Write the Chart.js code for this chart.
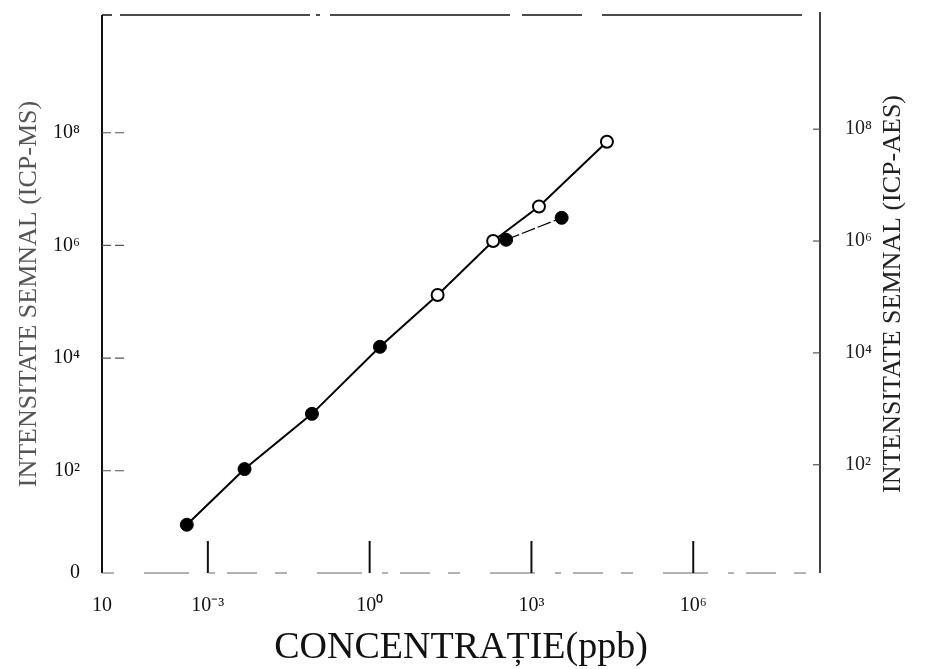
<!DOCTYPE html>
<html>
<head>
<meta charset="utf-8">
<script src="https://cdn.jsdelivr.net/npm/chart.js@4.4.1/dist/chart.umd.min.js"></script>
<style>
  html, body { margin: 0; padding: 0; background: #fff; }
  canvas { display: block; }
</style>
</head>
<body>
<canvas id="concChart" width="927" height="669"></canvas>
<script>
// ICP-MS points (filled): concentration in ppb vs signal
const msConc = [4.07e-4, 4.79e-3, 0.0851, 1.55, 339, 3630];
const msSignal = [11.0, 107, 1023, 15850, 1.26e6, 3.09e6];

// ICP-AES points (open)
const aesConc = [18.2, 195, 1380, 25100];
const aesSignal = [1.32e5, 1.20e6, 4.90e6, 6.92e7];

// how many ICP-MS points lie on the common straight line
const msOnLine = 4;

// axis ranges as printed (the scan is not perfectly regular)
const xRange = [1.09e-5, 2.24e8];
const yLeftRange = [1.53, 1.23e10];
const yRightRange = [1.16, 1.10e10];

const xTickValues = [xRange[0], 1e-3, 1, 1e3, 1e6];
const xTickLabels = ['10', '10⁻³', '10⁰', '10³', '10⁶'];
const yLeftTickValues = [yLeftRange[0], 1e2, 1e4, 1e6, 1e8];
const yLeftTickLabels = ['0', '10²', '10⁴', '10⁶', '10⁸'];
const yRightTickValues = [1e2, 1e4, 1e6, 1e8];
const yRightTickLabels = ['10²', '10⁴', '10⁶', '10⁸'];

const serif = '"Liberation Serif", "Times New Roman", serif';

const msPoints = msConc.map((x, i) => ({ x: x, y: msSignal[i] }));
const aesPoints = aesConc.map((x, i) => ({ x: x, y: aesSignal[i] }));
const linePoints = msPoints.slice(0, msOnLine).concat(aesPoints).sort((a, b) => a.x - b.x);

function line(ctx, x1, y1, x2, y2) {
    ctx.beginPath();
    ctx.moveTo(x1, y1);
    ctx.lineTo(x2, y2);
    ctx.stroke();
}

// keep the plot box exactly where the printed one is
function noPadding(s) {
    s.paddingTop = 0;
    s.paddingBottom = 0;
    s.paddingLeft = 0;
    s.paddingRight = 0;
}

// Frame and inward tick marks, like the printed figure
const framePlugin = {
    id: 'frame',
    beforeDatasetsDraw(chart) {
        const { ctx, chartArea: a, scales } = chart;
        ctx.save();
        ctx.strokeStyle = '#111';

        // left axis
        ctx.lineWidth = 2;
        line(ctx, a.left, a.top, a.left, a.bottom);

        // right axis
        ctx.lineWidth = 1.6;
        line(ctx, a.right, a.top - 3, a.right, a.bottom);

        // top edge, slightly broken in the print
        ctx.lineWidth = 1.6;
        ctx.setLineDash([10, 8, 190, 6, 4, 10, 180, 12, 60, 20, 200, 30]);
        line(ctx, a.left, a.top, a.right, a.top);

        // bottom edge, faint
        ctx.strokeStyle = '#666';
        ctx.lineWidth = 1.2;
        ctx.setLineDash([12, 30, 45, 20, 6, 12, 30, 18]);
        line(ctx, a.left, a.bottom, a.right, a.bottom);
        ctx.setLineDash([]);

        // x ticks pointing up
        ctx.strokeStyle = '#111';
        ctx.lineWidth = 2;
        xTickValues.slice(1).forEach(v => {
            const px = scales.x.getPixelForValue(v);
            line(ctx, px, a.bottom, px, a.bottom - 32);
        });

        // left ticks pointing in
        ctx.strokeStyle = '#555';
        ctx.lineWidth = 1.2;
        ctx.setLineDash([9, 4]);
        yLeftTickValues.slice(1).forEach(v => {
            const py = scales.y.getPixelForValue(v);
            line(ctx, a.left, py, a.left + 22, py);
        });
        ctx.setLineDash([]);

        // right ticks pointing in
        yRightTickValues.forEach(v => {
            const py = scales.y2.getPixelForValue(v);
            line(ctx, a.right - 7, py, a.right, py);
        });
        ctx.restore();
    }
};

// Right axis title reads bottom-to-top like the left one
const rightTitlePlugin = {
    id: 'rightTitle',
    afterDraw(chart) {
        const { ctx, chartArea: a } = chart;
        ctx.save();
        ctx.translate(893, (a.top + a.bottom) / 2);
        ctx.rotate(-Math.PI / 2);
        ctx.font = '26px ' + serif;
        ctx.fillStyle = '#222';
        ctx.textAlign = 'center';
        ctx.textBaseline = 'middle';
        ctx.fillText('INTENSITATE SEMNAL (ICP-AES)', 0, 0);
        ctx.restore();
    }
};

const tickFont = { family: serif, size: 20 };

new Chart(document.getElementById('concChart'), {
    type: 'scatter',
    data: {
        datasets: [{
            // ICP-MS, only the bent tail has its own line
            label: 'ICP-MS',
            data: msPoints,
            yAxisID: 'y',
            showLine: true,
            borderColor: '#000',
            borderWidth: 1.2,
            pointRadius: 6.5,
            pointBackgroundColor: '#000',
            pointBorderColor: '#000',
            pointBorderWidth: 1,
            order: 0,
            segment: {
                borderColor: ctx => ctx.p0DataIndex >= msOnLine ? '#000' : 'rgba(0,0,0,0)',
                borderDash: ctx => ctx.p0DataIndex >= msOnLine ? [14, 3] : undefined
            }
        }, {
            label: 'ICP-AES',
            data: aesPoints,
            yAxisID: 'y',
            showLine: false,
            pointRadius: 6,
            pointBackgroundColor: '#fff',
            pointBorderColor: '#000',
            pointBorderWidth: 2,
            order: 1
        }, {
            // common straight line through both techniques
            label: 'line',
            data: linePoints,
            yAxisID: 'y',
            showLine: true,
            borderColor: '#000',
            borderWidth: 2,
            pointRadius: 0,
            order: 2
        }]
    },
    options: {
        responsive: false,
        animation: false,
        layout: { padding: { top: 15, left: 0, right: 0, bottom: 0 } },
        plugins: {
            legend: { display: false },
            tooltip: { enabled: false }
        },
        scales: {
            x: {
                type: 'logarithmic',
                position: 'bottom',
                min: xRange[0],
                max: xRange[1],
                grid: { display: false, drawTicks: false },
                border: { display: false },
                afterBuildTicks: s => { s.ticks = xTickValues.map(v => ({ value: v })); },
                afterFit: s => { s.height = 96; noPadding(s); },
                ticks: {
                    autoSkip: false,
                    maxRotation: 0,
                    padding: 21,
                    color: '#111',
                    font: tickFont,
                    callback: (v, i) => xTickLabels[i]
                },
                title: {
                    display: true,
                    text: 'CONCENTRAȚIE(ppb)',
                    color: '#111',
                    font: { family: serif, size: 38, lineHeight: 1 },
                    padding: { top: 0, bottom: 2 }
                }
            },
            y: {
                type: 'logarithmic',
                position: 'left',
                min: yLeftRange[0],
                max: yLeftRange[1],
                grid: { display: false, drawTicks: false },
                border: { display: false },
                afterBuildTicks: s => { s.ticks = yLeftTickValues.map(v => ({ value: v })); },
                afterFit: s => { s.width = 102; noPadding(s); },
                ticks: {
                    autoSkip: false,
                    padding: 22,
                    color: '#111',
                    font: tickFont,
                    callback: (v, i) => yLeftTickLabels[i]
                },
                title: {
                    display: true,
                    text: 'INTENSITATE SEMNAL (ICP-MS)',
                    color: '#555',
                    font: { family: serif, size: 26, lineHeight: 1 },
                    padding: { top: 16, bottom: 0 }
                }
            },
            y2: {
                type: 'logarithmic',
                position: 'right',
                min: yRightRange[0],
                max: yRightRange[1],
                grid: { display: false, drawTicks: false },
                border: { display: false },
                afterBuildTicks: s => { s.ticks = yRightTickValues.map(v => ({ value: v })); },
                afterFit: s => { s.width = 107; noPadding(s); },
                ticks: {
                    autoSkip: false,
                    padding: 25,
                    color: '#222',
                    font: tickFont,
                    callback: (v, i) => yRightTickLabels[i]
                }
            }
        }
    },
    plugins: [framePlugin, rightTitlePlugin]
});
</script>
</body>
</html>
